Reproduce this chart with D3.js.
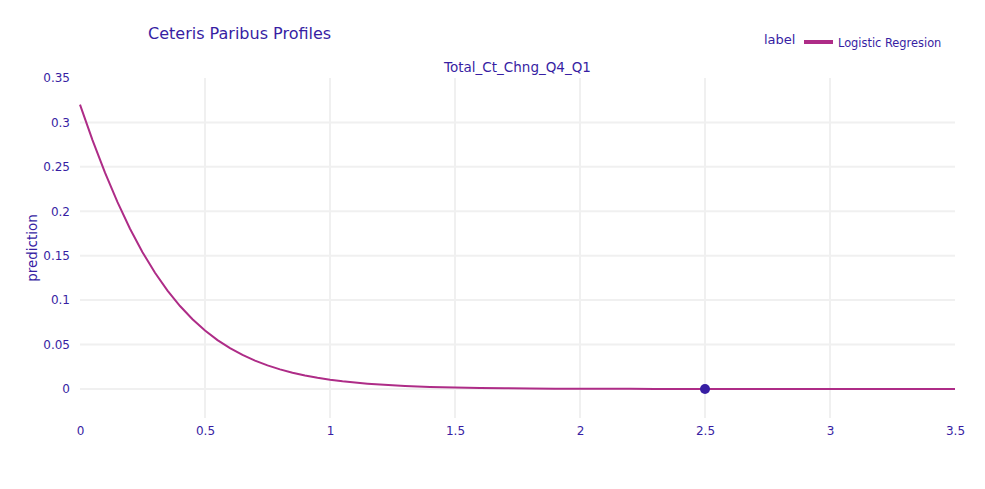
<!DOCTYPE html>
<html>
<head>
<meta charset="utf-8">
<script src="https://cdn.jsdelivr.net/npm/d3@7"></script>
<style>
  body { margin: 0; background: #fff; }
  svg { display: block; }
  text { font-family: Verdana, "DejaVu Sans", sans-serif; fill: #371ea3; }
</style>
</head>
<body>
<svg id="chart" width="985" height="489"></svg>
<script>
// ---- data ----
const xValues = [0,0.05,0.1,0.15,0.2,0.25,0.3,0.35,0.4,0.45,0.5,0.55,0.6,0.65,0.7,0.75,0.8,0.85,0.9,0.95,1.0,1.05,1.1,1.15,1.2,1.25,1.3,1.35,1.4,1.45,1.5,1.6,1.7,1.8,1.9,2.0,2.1,2.2,2.3,2.4,2.5,2.6,2.7,2.8,2.9,3.0,3.1,3.2,3.3,3.4,3.5];
const predictions = [0.320,0.2801,0.2434,0.2102,0.1803,0.1539,0.1308,0.1107,0.0933,0.0784,0.0657,0.0550,0.0459,0.0383,0.0319,0.0265,0.0220,0.0183,0.0152,0.0126,0.0104,0.0086,0.0072,0.0059,0.0049,0.0041,0.0034,0.0028,0.0023,0.0019,0.0016,0.0011,0.0007,0.0005,0.0003,0.0002,0.00016,0.00011,0.00007,0.00005,0.00003,0.00002,0.00002,0.00001,0.00001,0.00001,0.00001,0,0,0,0];
const observation = { x: 2.5, y: 0.00003 };
const xTicks = [0,0.5,1,1.5,2,2.5,3,3.5];
const yTicks = [0,0.05,0.1,0.15,0.2,0.25,0.3,0.35];
const seriesName = "Logistic Regresion";
const variableName = "Total_Ct_Chng_Q4_Q1";

const FONT = 'Verdana, "DejaVu Sans", sans-serif';
const svg = d3.select("#chart");
const m = { left: 80, right: 30, top: 78, bottom: 71 };
const W = 985, H = 489;
const x = d3.scaleLinear().domain([0, 3.5]).range([m.left, W - m.right]);
const y = d3.scaleLinear().domain([-0.0327, 0.35]).range([H - m.bottom, m.top]);

const grid = svg.append("g");
grid.selectAll("line.vx").data(xTicks.filter(t => t > 0 && t < 3.5)).join("line")
  .attr("x1", d => x(d)).attr("x2", d => x(d))
  .attr("y1", m.top).attr("y2", H - m.bottom)
  .attr("stroke", "#f0f0f0").attr("stroke-width", 2);
grid.selectAll("line.hy").data(yTicks.filter(t => t < 0.35)).join("line")
  .attr("x1", m.left).attr("x2", W - m.right)
  .attr("y1", d => y(d)).attr("y2", d => y(d))
  .attr("stroke", "#f0f0f0").attr("stroke-width", 2);

const xAxis = d3.axisBottom(x).tickValues(xTicks).tickSize(0).tickFormat(d3.format("~g"));
const gx = svg.append("g").attr("transform", `translate(0,${H - m.bottom + 5})`).call(xAxis);
gx.select(".domain").remove();
gx.selectAll("text").attr("font-size", 12).style("font-family", FONT).attr("fill", "#371ea3");

const yAxis = d3.axisLeft(y).tickValues(yTicks).tickSize(0).tickFormat(d3.format("~g"));
const gy = svg.append("g").attr("transform", `translate(${m.left - 7},0)`).call(yAxis);
gy.select(".domain").remove();
gy.selectAll("text").attr("font-size", 12).style("font-family", FONT).attr("fill", "#371ea3");

const data = xValues.map((v, i) => ({ x: v, y: predictions[i] }));
svg.append("path").datum(data)
  .attr("fill", "none").attr("stroke", "#ae2c87").attr("stroke-width", 2)
  .attr("d", d3.line().x(d => x(d.x)).y(d => y(d.y)));

svg.append("circle").attr("cx", x(observation.x)).attr("cy", y(observation.y))
  .attr("r", 5).attr("fill", "#371ea3");

svg.append("text").attr("x", 148).attr("y", 39).attr("font-size", 16).text("Ceteris Paribus Profiles");
svg.append("text").attr("x", (m.left + W - m.right) / 2).attr("y", 72).attr("text-anchor", "middle")
  .attr("font-size", 13.5).text(variableName);
svg.append("text").attr("transform", `translate(37,${(m.top + H - m.bottom) / 2}) rotate(-90)`)
  .attr("text-anchor", "middle").attr("font-size", 13.5).text("prediction");

svg.append("text").attr("x", 764).attr("y", 44).attr("font-size", 13).text("label");
svg.append("line").attr("x1", 804).attr("x2", 833).attr("y1", 42).attr("y2", 42)
  .attr("stroke", "#ae2c87").attr("stroke-width", 4);
svg.append("text").attr("x", 838).attr("y", 47).attr("font-size", 11.4).text(seriesName);
</script>
</body>
</html>
